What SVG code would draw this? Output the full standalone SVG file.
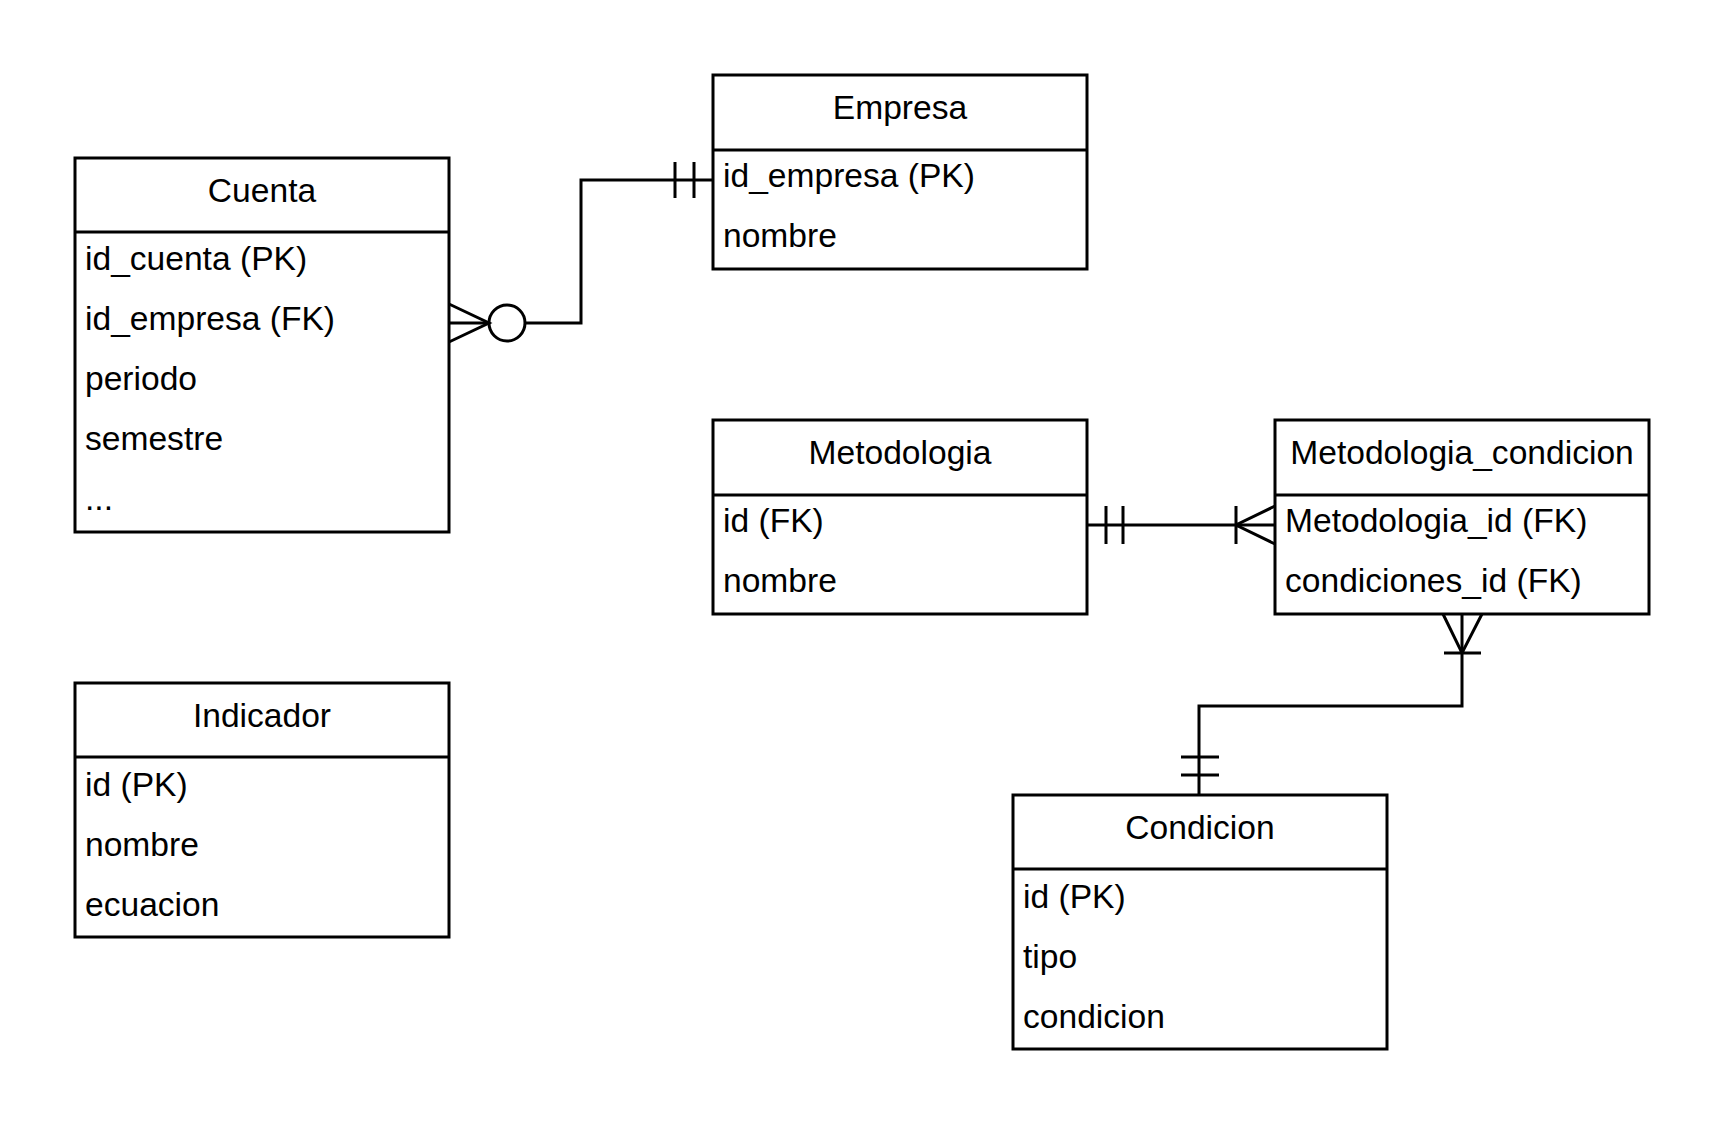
<svg xmlns="http://www.w3.org/2000/svg" width="1725" height="1125" viewBox="0 0 1725 1125">
<style>
.box{fill:#fff;stroke:#000;stroke-width:3}
.ln{fill:none;stroke:#000;stroke-width:3}
.t{font-family:"Liberation Sans",Arial,sans-serif;font-size:33.6px;fill:#000}
.c{text-anchor:middle}
</style>
<rect width="1725" height="1125" fill="#fff"/>
<g id="cuenta">
<rect class="box" x="75" y="158" width="374" height="374"/>
<line class="ln" x1="75" y1="232" x2="449" y2="232"/>
<text class="t c" x="262" y="202">Cuenta</text>
<text class="t" x="85" y="270">id_cuenta (PK)</text>
<text class="t" x="85" y="330">id_empresa (FK)</text>
<text class="t" x="85" y="390">periodo</text>
<text class="t" x="85" y="450">semestre</text>
<text class="t" x="85" y="510">...</text>
</g>
<g id="empresa">
<rect class="box" x="713" y="75" width="374" height="194"/>
<line class="ln" x1="713" y1="150" x2="1087" y2="150"/>
<text class="t c" x="900" y="119">Empresa</text>
<text class="t" x="723" y="187">id_empresa (PK)</text>
<text class="t" x="723" y="247">nombre</text>
</g>
<g id="metodologia">
<rect class="box" x="713" y="420" width="374" height="194"/>
<line class="ln" x1="713" y1="495" x2="1087" y2="495"/>
<text class="t c" x="900" y="464">Metodologia</text>
<text class="t" x="723" y="532">id (FK)</text>
<text class="t" x="723" y="592">nombre</text>
</g>
<g id="metodologia_condicion">
<rect class="box" x="1275" y="420" width="374" height="194"/>
<line class="ln" x1="1275" y1="495" x2="1649" y2="495"/>
<text class="t c" x="1462" y="464">Metodologia_condicion</text>
<text class="t" x="1285" y="532">Metodologia_id (FK)</text>
<text class="t" x="1285" y="592">condiciones_id (FK)</text>
</g>
<g id="condicion">
<rect class="box" x="1013" y="795" width="374" height="254"/>
<line class="ln" x1="1013" y1="869" x2="1387" y2="869"/>
<text class="t c" x="1200" y="839">Condicion</text>
<text class="t" x="1023" y="908">id (PK)</text>
<text class="t" x="1023" y="968">tipo</text>
<text class="t" x="1023" y="1028">condicion</text>
</g>
<g id="indicador">
<rect class="box" x="75" y="683" width="374" height="254"/>
<line class="ln" x1="75" y1="757" x2="449" y2="757"/>
<text class="t c" x="262" y="727">Indicador</text>
<text class="t" x="85" y="796">id (PK)</text>
<text class="t" x="85" y="856">nombre</text>
<text class="t" x="85" y="916">ecuacion</text>
</g>
<g id="connectors">
<path class="ln" d="M449 323 H489 M525 323 H581 V180 H713"/>
<path class="ln" d="M449 304 L489 323 L449 342"/>
<circle class="ln" cx="507" cy="323" r="18"/>
<path class="ln" d="M675 162 V198 M694 162 V198"/>
<path class="ln" d="M1087 525 H1275"/>
<path class="ln" d="M1106 506 V544 M1123 506 V544"/>
<path class="ln" d="M1236 506 V544 M1275 506 L1236 525 L1275 544"/>
<path class="ln" d="M1462 614 V706 H1199 V795"/>
<path class="ln" d="M1443 614 L1462 653 L1482 614 M1444 653 H1481"/>
<path class="ln" d="M1181 757 H1219 M1181 775 H1219"/>
</g>
</svg>
